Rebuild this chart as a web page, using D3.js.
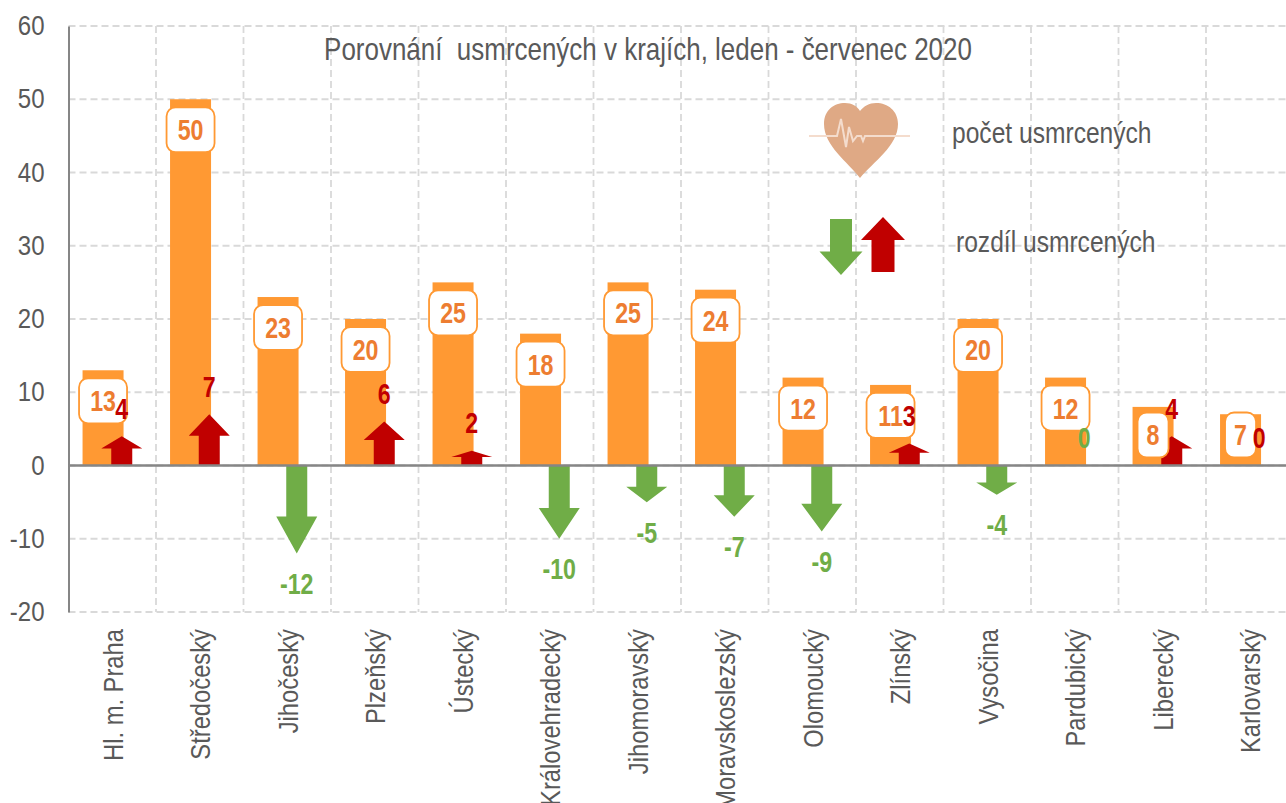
<!DOCTYPE html>
<html>
<head>
<meta charset="utf-8">
<script src="https://cdn.jsdelivr.net/npm/d3@7"></script>
<style>
  html, body { margin: 0; padding: 0; background: #fff; overflow: hidden; }
  text { font-family: "Liberation Sans", Arial, sans-serif; }
</style>
</head>
<body>
<div id="chart"></div>
<script>
const regions = ['Hl. m. Praha', 'Středočeský', 'Jihočeský', 'Plzeňský', 'Ústecký', 'Královehradecký', 'Jihomoravský',
    'Moravskoslezský', 'Olomoucký', 'Zlínský', 'Vysočina', 'Pardubický', 'Liberecký', 'Karlovarský'];
const deaths = [13, 50, 23, 20, 25, 18, 25, 24, 12, 11, 20, 12, 8, 7];
const diffs = [4, 7, -12, 6, 2, -10, -5, -7, -9, 3, -4, 0, 4, 0];
// the two zeros are coloured differently in the original
const zeroIsGreen = ['Pardubický'];
const yTicks = [-20, -10, 0, 10, 20, 30, 40, 50, 60];

const width = 1286, height = 803;
const RED = '#c00000', GREEN = '#70ad47', ORANGE = '#ff9933', LABEL = '#ed7d31', GREY = '#595959';

const svg = d3.select('#chart').append('svg')
    .attr('width', width)
    .attr('height', height)
    .style('display', 'block');

const x = d3.scaleBand().domain(regions).range([68.5, 1293.5]);
const y = d3.scaleLinear().domain([-20, 60]).range([612, 26]);

// Grid
const grid = svg.append('g')
    .attr('stroke', '#d9d9d9')
    .attr('stroke-width', 1.8)
    .attr('stroke-dasharray', '7 4');
grid.selectAll('.h').data(yTicks).enter().append('line')
    .attr('x1', x.range()[0]).attr('x2', width)
    .attr('y1', d => y(d)).attr('y2', d => y(d));
grid.selectAll('.v').data(regions.slice(1)).enter().append('line')
    .attr('x1', d => x(d)).attr('x2', d => x(d))
    .attr('y1', y(60)).attr('y2', y(-20));

// Bars
const barWidth = 41;
const barX = d => x(d) + x.bandwidth() / 2 - 9.2;
const arrowX = d => x(d) + x.bandwidth() / 2 + 9.5;

svg.append('g').selectAll('rect').data(regions).enter().append('rect')
    .attr('x', d => barX(d) - barWidth / 2)
    .attr('width', barWidth)
    .attr('y', (d, i) => y(deaths[i]))
    .attr('height', (d, i) => y(0) - y(deaths[i]))
    .attr('fill', ORANGE);

// block arrow from y0 to y1, the head takes 42 % of the length like in the original
const arrowPath = (cx, y0, y1, headW = 41, shaftW = 21) => {
    const neck = y1 + (y0 - y1) * 0.42;
    const p = d3.path();
    p.moveTo(cx - shaftW / 2, y0);
    p.lineTo(cx - shaftW / 2, neck);
    p.lineTo(cx - headW / 2, neck);
    p.lineTo(cx, y1);
    p.lineTo(cx + headW / 2, neck);
    p.lineTo(cx + shaftW / 2, neck);
    p.lineTo(cx + shaftW / 2, y0);
    p.closePath();
    return p.toString();
};

svg.append('g').selectAll('path').data(regions).enter().append('path')
    .attr('d', (d, i) => arrowPath(arrowX(d), y(0), y(diffs[i])))
    .attr('fill', (d, i) => diffs[i] < 0 ? GREEN : RED);

// Axes
const yAxis = d3.axisLeft(y).tickValues(yTicks).tickSize(0).tickFormat(d => String(d));
svg.append('g')
    .attr('transform', `translate(${x.range()[0]},0)`)
    .call(yAxis)
    .call(g => g.select('.domain').attr('stroke', '#868686').attr('stroke-width', 2))
    .call(g => g.selectAll('text')
        .attr('fill', GREY)
        .attr('x', 0)
        .attr('transform', 'translate(-24,0) scale(0.89,1)')
        .style('font-size', '27px'));

const xAxis = d3.axisBottom(x).tickSize(0);
svg.append('g')
    .attr('transform', `translate(0,${y(0)})`)
    .call(xAxis)
    .call(g => g.select('.domain').attr('stroke', '#868686').attr('stroke-width', 2.5).attr('d', `M${x.range()[0]},0H${width}`))
    .call(g => g.selectAll('text')
        .attr('fill', GREY)
        .attr('text-anchor', 'end')
        .attr('transform', `translate(1,${y(-20) - y(0) + 17}) rotate(-90) scale(0.88,1)`)
        .attr('x', 0)
        .attr('y', 0)
        .attr('dy', '0.35em')
        .style('font-size', '27px'));

// Value boxes
const boxH = 45;
const boxes = svg.append('g').selectAll('g').data(regions).enter().append('g')
    .attr('transform', (d, i) => {
        const top = Math.min(y(deaths[i]) + 8, y(0) - 8 - boxH);
        return `translate(${barX(d)},${top})`;
    });
const boxW = i => String(deaths[i]).length > 1 ? 48 : 31;
boxes.append('rect')
    .attr('x', (d, i) => -boxW(i) / 2)
    .attr('width', (d, i) => boxW(i))
    .attr('height', boxH)
    .attr('rx', 9)
    .attr('fill', '#fff')
    .attr('stroke', ORANGE)
    .attr('stroke-width', 1.8);
boxes.append('text')
    .attr('transform', `translate(0,${boxH / 2}) scale(0.8,1)`)
    .attr('dy', '0.36em')
    .attr('text-anchor', 'middle')
    .attr('fill', LABEL)
    .style('font-size', '29px')
    .style('font-weight', 'bold')
    .text((d, i) => deaths[i]);

// Difference labels
svg.append('g').selectAll('text').data(regions).enter().append('text')
    .attr('transform', (d, i) => `translate(${arrowX(d)},${diffs[i] < 0 ? y(diffs[i]) + 30 : y(diffs[i]) - 28}) scale(0.8,1)`)
    .attr('dy', '0.36em')
    .attr('text-anchor', 'middle')
    .attr('fill', (d, i) => diffs[i] < 0 || zeroIsGreen.includes(d) ? GREEN : RED)
    .style('font-size', '29px')
    .style('font-weight', 'bold')
    .text((d, i) => diffs[i]);

// Title
svg.append('text')
    .attr('transform', 'translate(648,60) scale(0.838,1)')
    .attr('text-anchor', 'middle')
    .attr('fill', GREY)
    .style('font-size', '31px')
    .style('white-space', 'pre')
    .text('Porovnání  usmrcených v krajích, leden - červenec 2020');

// Legend
const heart = svg.append('g');
heart.append('path')
    .attr('d', 'M860,178 C848,162 824,146 824,124 C824,110 834,103 845,103 C852,103 857,106 860,111 C864,106 869,103 876,103 C888,103 898,111 898,124 C898,146 873,162 860,178 Z')
    .attr('fill', '#dfa985');
heart.append('path')
    .attr('d', 'M809,136 H832 L837,136 L841,119 L846,147 L849,127 L853,141 L857,136 L861,136 L863,141 L865,136 H910')
    .attr('fill', 'none')
    .attr('stroke', '#f4dccd')
    .attr('stroke-width', 2);

svg.append('path').attr('d', arrowPath(841, 219, 275, 43, 22)).attr('fill', GREEN);
svg.append('path').attr('d', arrowPath(883, 272, 217, 44, 23)).attr('fill', RED);

svg.append('text').attr('transform', 'translate(952,143) scale(0.82,1)')
    .attr('fill', GREY).style('font-size', '30px').text('počet usmrcených');
svg.append('text').attr('transform', 'translate(956,252) scale(0.82,1)')
    .attr('fill', GREY).style('font-size', '30px').text('rozdíl usmrcených');
</script>
</body>
</html>
